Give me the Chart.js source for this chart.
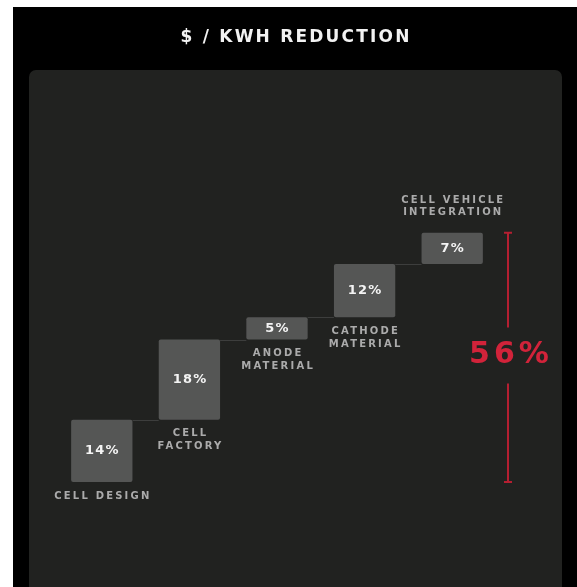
<!DOCTYPE html>
<html>
<head>
<meta charset="utf-8">
<title>$ / KWH REDUCTION</title>
<script src="https://cdn.jsdelivr.net/npm/chart.js@4"></script>
<style>
  html, body { margin: 0; padding: 0; background: #ffffff; overflow: hidden; }
  #wrap { position: relative; width: 577px; height: 587px; }
</style>
</head>
<body>
<div id="wrap"><canvas id="myChart"></canvas></div>
<script>
const title = "$ / KWH REDUCTION";
const categories = [
  ["CELL DESIGN"],
  ["CELL", "FACTORY"],
  ["ANODE", "MATERIAL"],
  ["CATHODE", "MATERIAL"],
  ["CELL VEHICLE", "INTEGRATION"],
];
const reductions = [14, 18, 5, 12, 7];
const yMax = 60;

const total = reductions.reduce((a, b) => a + b, 0);

// waterfall: each bar floats on top of the previous ones
let running = 0;
const floating = reductions.map((v) => {
  const seg = [running, running + v];
  running += v;
  return seg;
});

const backdrop = {
  id: "backdrop",
  beforeDraw(chart) {
    const ctx = chart.ctx;
    ctx.save();
    ctx.fillStyle = "#ffffff";
    ctx.fillRect(0, 0, chart.width, chart.height);
    ctx.fillStyle = "#000000";
    ctx.fillRect(13, 7, chart.width - 13, chart.height - 7);
    ctx.fillStyle = "#212220";
    ctx.beginPath();
    ctx.roundRect(29, 70, 533, chart.height - 70 + 10, 7);
    ctx.fill();

    ctx.fillStyle = "#f2f2f2";
    ctx.font = "bold 17px 'DejaVu Sans'";
    ctx.letterSpacing = "2.2px";
    ctx.textAlign = "left";
    ctx.textBaseline = "middle";
    const w = ctx.measureText(title).width - 2.2;
    ctx.fillText(title, 295 - w / 2, 38);
    ctx.restore();
  },
};

const labels = {
  id: "labels",
  beforeDatasetsDraw(chart) {
    // thin connectors between steps
    const ctx = chart.ctx;
    const bars = chart.getDatasetMeta(0).data;
    ctx.save();
    ctx.strokeStyle = "#3d3e3d";
    ctx.lineWidth = 1;
    for (let i = 0; i < bars.length - 1; i++) {
      const a = bars[i], b = bars[i + 1];
      const y = Math.round(a.y) + 0.5;
      ctx.beginPath();
      ctx.moveTo(a.x + a.width / 2, y);
      ctx.lineTo(b.x - b.width / 2, y);
      ctx.stroke();
    }
    ctx.restore();
  },
  afterDatasetsDraw(chart) {
    const ctx = chart.ctx;
    const bars = chart.getDatasetMeta(0).data;
    ctx.save();
    ctx.textBaseline = "middle";
    ctx.textAlign = "left";

    const centered = (text, x, y, sp) => {
      const w = ctx.measureText(text).width - sp;
      ctx.fillText(text, x - w / 2, y);
    };

    bars.forEach((bar, i) => {
      ctx.fillStyle = "#f4f4f4";
      ctx.font = "bold 13px 'DejaVu Sans'";
      ctx.letterSpacing = "1.2px";
      centered(reductions[i] + "%", bar.x, (bar.y + bar.base) / 2, 1.2);

      ctx.fillStyle = "#ababab";
      ctx.font = "bold 10px 'DejaVu Sans'";
      ctx.letterSpacing = "2.2px";
      const lines = categories[i];
      if (i === bars.length - 1) {
        lines.forEach((t, j) => {
          centered(t, bar.x, bar.y - 20 - (lines.length - 1 - j) * 12, 2.2);
        });
      } else {
        lines.forEach((t, j) => {
          centered(t, bar.x, bar.base + 14 + j * 13, 2.2);
        });
      }
    });

    // red bracket for the total
    const y = chart.scales.y;
    const top = y.getPixelForValue(total);
    const bottom = y.getPixelForValue(0);
    const mid = (top + bottom) / 2 - 2;
    const x = chart.chartArea.right + 12;
    ctx.strokeStyle = "#b51f31";
    ctx.lineWidth = 2;
    ctx.beginPath();
    ctx.moveTo(x, top);
    ctx.lineTo(x, mid - 28);
    ctx.moveTo(x, mid + 28);
    ctx.lineTo(x, bottom);
    ctx.moveTo(x - 4, top);
    ctx.lineTo(x + 4, top);
    ctx.moveTo(x - 4, bottom);
    ctx.lineTo(x + 4, bottom);
    ctx.stroke();

    ctx.fillStyle = "#d2233a";
    ctx.font = "bold 30px 'DejaVu Sans'";
    ctx.letterSpacing = "4px";
    centered(total + "%", x + 1, mid, 4);
    ctx.restore();
  },
};

const ctx = document.getElementById("myChart").getContext("2d");
new Chart(ctx, {
  type: "bar",
  data: {
    labels: categories,
    datasets: [
      {
        label: "Reduction",
        data: floating,
        backgroundColor: "#555655",
        borderRadius: 2,
        borderSkipped: false,
        barPercentage: 0.7,
        categoryPercentage: 1,
      },
    ],
  },
  options: {
    responsive: true,
    maintainAspectRatio: false,
    animation: false,
    layout: {
      padding: { left: 58, right: 81, top: 215, bottom: 105 },
    },
    plugins: {
      legend: { display: false },
      tooltip: { enabled: false },
    },
    scales: {
      x: { display: false },
      y: { display: false, min: 0, max: yMax },
    },
  },
  plugins: [backdrop, labels],
});
</script>
</body>
</html>
